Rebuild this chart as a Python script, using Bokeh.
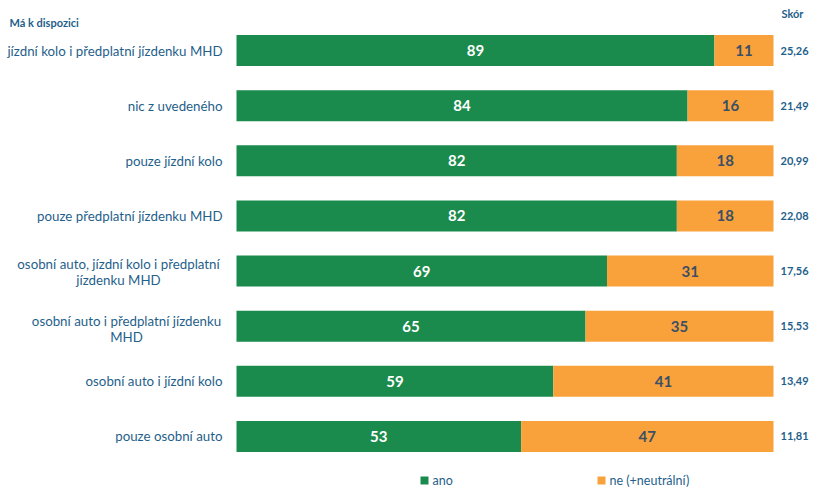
from bokeh.plotting import figure
from bokeh.models import Range1d, ColumnDataSource
from bokeh.core.properties import value
from bokeh.embed import file_html
from bokeh.resources import INLINE

categories = [
    "jízdní kolo i předplatní jízdenku MHD",
    "nic z uvedeného",
    "pouze jízdní kolo",
    "pouze předplatní jízdenku MHD",
    "osobní auto, jízdní kolo i předplatní\njízdenku MHD",
    "osobní auto i předplatní jízdenku\nMHD",
    "osobní auto i jízdní kolo",
    "pouze osobní auto",
]
ano = [89, 84, 82, 82, 69, 65, 59, 53]
ne = [11, 16, 18, 18, 31, 35, 41, 47]
skor = ["25,26", "21,49", "20,99", "22,08", "17,56", "15,53", "13,49", "11,81"]
series = ["ano", "ne (+neutrální)"]
colors = ["#1a8b4c", "#f9a23b"]
title_left = "Má k dispozici"
title_right = "Skór"

W, H = 811, 487
px_per_unit = 5.37
x0_canvas = 236
y0_canvas = 50
row_px = 55.14
# label block centre offsets (px) for wrapped labels, and line offsets
wrap_center = {4: -118, 5: -110}
wrap_line_dy = {4: [-7.5, 8.5], 5: [-5.5, 10.5]}

x_start = -x0_canvas / px_per_unit
x_end = (W - x0_canvas) / px_per_unit
y_top = -y0_canvas / row_px
y_bottom = (H - y0_canvas) / row_px

p = figure(width=W, height=H, output_backend="svg", toolbar_location=None,
           x_range=Range1d(x_start, x_end), y_range=Range1d(y_bottom, y_top),
           min_border=0, outline_line_color=None)
p.axis.visible = False
p.grid.visible = False
p.background_fill_color = "white"

n = len(categories)
ys = list(range(n))
src = ColumnDataSource(dict(
    y=ys, cat=categories, ano=ano, ne=ne,
    ano_end=ano, ne_start=ano, ne_end=[a + b for a, b in zip(ano, ne)],
    ano_mid=[a / 2 for a in ano], ne_mid=[a + b / 2 for a, b in zip(ano, ne)],
    ano_txt=[str(a) for a in ano], ne_txt=[str(b) for b in ne],
    skor=skor, zero=[0] * n, skor_x=[100] * n,
))

bh = 31 / row_px
p.hbar(y="y", left="zero", right="ano_end", height=bh, source=src,
       fill_color=colors[0], line_color=None)
p.hbar(y="y", left="ne_start", right="ne_end", height=bh, source=src,
       fill_color=colors[1], line_color=None)

p.text(x="ano_mid", y="y", text="ano_txt", source=src, text_align="center",
       text_baseline="middle", text_color="white", text_font=value("Lato"),
       text_font_style="bold", text_font_size="15px")
p.text(x="ne_mid", y="y", text="ne_txt", source=src, text_align="center",
       text_baseline="middle", text_color="#3b4f66", text_font=value("Lato"),
       text_font_style="bold", text_font_size="15px")

# category labels: single-line right aligned, wrapped lines centred
s_y, s_t, w_x, w_y, w_t = [], [], [], [], []
for i, c in enumerate(categories):
    lines = c.split("\n")
    if len(lines) == 1:
        s_y.append(ys[i]); s_t.append(c)
    else:
        for line, dy in zip(lines, wrap_line_dy[i]):
            w_x.append(wrap_center[i] / px_per_unit)
            w_y.append(ys[i] + dy / row_px)
            w_t.append(line)
src_single = ColumnDataSource(dict(y=s_y, cat=s_t, x=[0] * len(s_y)))
src_wrap = ColumnDataSource(dict(y=w_y, cat=w_t, x=w_x))

p.text(x="x", y="y", text="cat", source=src_single, x_offset=-14, text_align="right",
       text_baseline="middle", text_color="#1f5f8b", text_font=value("Lato"),
       text_font_size="13.3px")
p.text(x="x", y="y", text="cat", source=src_wrap, text_align="center",
       text_baseline="middle", text_color="#1f5f8b", text_font=value("Lato"),
       text_font_size="13.3px")

p.text(x="skor_x", y="y", text="skor", source=src, x_offset=7, text_align="left",
       text_baseline="middle", text_color="#1f5f8b", text_font=value("Lato"),
       text_font_style="bold", text_font_size="11px")

# titles
p.text(x=[x_start], y=[(22 - y0_canvas) / row_px], text=[title_left], x_offset=9,
       text_align="left", text_baseline="middle", text_color="#1f5f8b",
       text_font=value("Lato"), text_font_style="bold", text_font_size="11px")
p.text(x=[100], y=[(13 - y0_canvas) / row_px], text=[title_right], x_offset=8,
       text_align="left", text_baseline="middle", text_color="#1f5f8b",
       text_font=value("Lato"), text_font_style="bold", text_font_size="11px")

# legend
leg_y = (480 - y0_canvas) / row_px
leg_x = [(424 - x0_canvas) / px_per_unit, (601 - x0_canvas) / px_per_unit]
p.scatter(x=leg_x, y=[leg_y, leg_y], marker="square", size=8,
          fill_color=colors, line_color=None)
p.text(x=leg_x, y=[leg_y, leg_y], text=series, x_offset=8, text_align="left",
       text_baseline="middle", text_color="#1f5f8b", text_font=value("Lato"),
       text_font_size="12.5px")

open("out.html", "w").write(file_html(p, INLINE))
